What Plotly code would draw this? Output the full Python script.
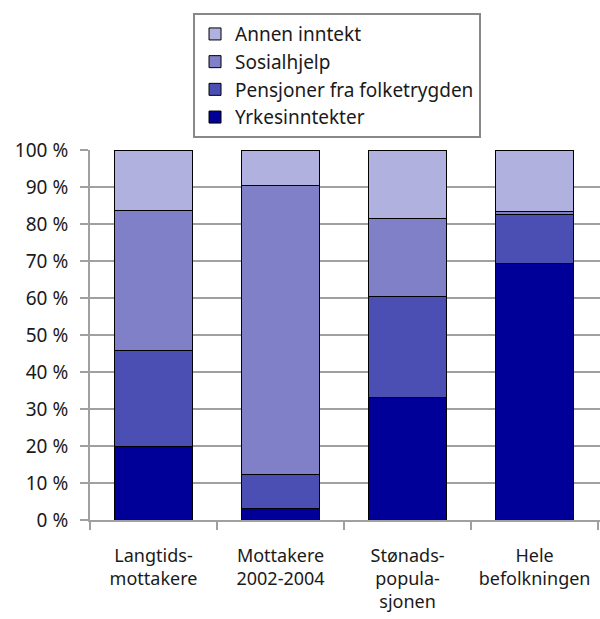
import plotly.graph_objects as go

categories = ["Langtids-<br>mottakere", "Mottakere<br>2002-2004", "Stønads-<br>popula-<br>sjonen", "Hele<br>befolkningen"]
yrkesinntekter = [19.8, 3.2, 33.2, 69.3]
pensjoner = [26.1, 9.0, 27.1, 13.4]
sosialhjelp = [37.7, 78.2, 21.2, 0.7]
annen = [16.4, 9.6, 18.5, 16.6]
yticks = [0, 10, 20, 30, 40, 50, 60, 70, 80, 90, 100]
ytick_labels = [f"{v} %" for v in yticks]

series = [
    ("Yrkesinntekter", yrkesinntekter, "#000099"),
    ("Pensjoner fra folketrygden", pensjoner, "#4B4FB4"),
    ("Sosialhjelp", sosialhjelp, "#8080C8"),
    ("Annen inntekt", annen, "#B0B1DF"),
]

fig = go.Figure()
for name, vals, color in series:
    fig.add_trace(go.Bar(
        x=categories, y=vals, name=name,
        marker=dict(color=color, line=dict(color="#000000", width=1)),
        width=0.62,
    ))

font_family = "Noto Sans, Open Sans, sans-serif"
fig.update_layout(
    width=600, height=619,
    barmode="stack",
    paper_bgcolor="white", plot_bgcolor="white",
    margin=dict(l=90, r=0, t=150, b=99, autoexpand=False),
    font=dict(family=font_family, size=18, color="#1a1a1a"),
    showlegend=True,
    legend=dict(
        traceorder="reversed",
        x=0.202, y=1.37, xanchor="left", yanchor="top",
        bordercolor="#888888", borderwidth=2,
        font=dict(size=19, family=font_family, color="#1a1a1a"),
        itemwidth=30, tracegroupgap=1,
    ),
    xaxis=dict(
        range=[-0.5, 3.515],
        showline=True, linecolor="#A0A0A0", linewidth=2,
        ticks="outside", ticklen=8, tickcolor="#A0A0A0", tickwidth=2,
        tickson="boundaries", showgrid=False,
        tickfont=dict(size=18),
        tickangle=0, automargin=False,
        ticklabelstandoff=18,
    ),
    yaxis=dict(
        range=[0, 100],
        tickvals=yticks, ticktext=ytick_labels,
        showgrid=True, gridcolor="#A0A0A0", gridwidth=2,
        showline=True, linecolor="#A0A0A0", linewidth=2,
        ticks="outside", ticklen=8, tickcolor="#A0A0A0", tickwidth=2,
        zeroline=False, automargin=False,
        tickfont=dict(size=19),
        ticklabelstandoff=8,
    ),
)

fig.write_html(
    "out.html",
    config={"displayModeBar": False},
    post_script="document.body.style.margin='0';document.body.style.overflow='hidden';",
)
